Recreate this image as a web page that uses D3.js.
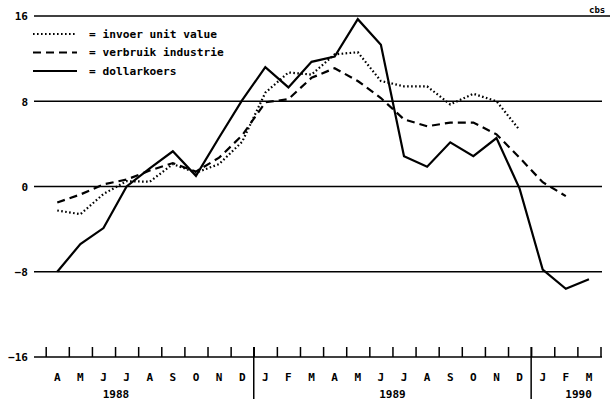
<!DOCTYPE html>
<html><head><meta charset="utf-8">
<script src="https://cdn.jsdelivr.net/npm/d3@7"></script>
<style>html,body{margin:0;padding:0;background:#fff;}svg{display:block;}</style>
</head><body>
<svg id="c" width="610" height="400"></svg>
<script>
const months = ["A","M","J","J","A","S","O","N","D","J","F","M","A","M","J","J","A","S","O","N","D","J","F","M"];
const years = ["1988","1989","1990"];
const yTicks = [-16,-8,0,8,16];
const dollarkoers = [-8,-5.4,-3.9,0,1.7,3.3,1.0,4.6,8.1,11.2,9.3,11.7,12.2,15.7,13.3,2.85,1.85,4.15,2.85,4.55,-0.2,-7.8,-9.6,-8.7];
const invoerUnitValue = [-2.25,-2.6,-0.7,0.5,0.45,2.1,1.3,2.1,4.2,8.8,10.7,10.5,12.4,12.6,9.9,9.4,9.4,7.7,8.7,8.0,5.3];
const verbruikIndustrie = [-1.5,-0.75,0.2,0.65,1.5,2.2,1.4,2.7,4.8,7.9,8.2,10.2,11.1,9.9,8.3,6.3,5.65,6.0,6.0,4.9,2.7,0.4,-0.9];
const legendLabels = ["invoer unit value","verbruik industrie","dollarkoers"];

const svg = d3.select("#c");
const font = "'DejaVu Sans Mono', monospace";
const x = d3.scaleLinear().domain([0,24]).range([45.7,600.5]);
const y = d3.scaleLinear().domain([-16,16]).range([357,16]);
const xm = i => x(i+0.5);

// grid lines
svg.append("g").selectAll("line").data(yTicks.filter(v=>v>-16)).join("line")
  .attr("x1",34).attr("x2",d=>d===16?610:602)
  .attr("y1",d=>y(d)).attr("y2",d=>y(d))
  .attr("stroke","#000").attr("stroke-width",1.6);

// x axis (baseline at -16) with upward ticks
const xAxis = d3.axisTop(x).tickValues(d3.range(0,25)).tickSize(10).tickFormat("");
const gx = svg.append("g").attr("transform",`translate(0,${y(-16)})`).call(xAxis);
gx.select(".domain").remove();
gx.selectAll(".tick line").attr("stroke","#000").attr("stroke-width",1.5);
svg.append("line").attr("x1",34).attr("x2",602).attr("y1",y(-16)).attr("y2",y(-16))
  .attr("stroke","#000").attr("stroke-width",1.6);
// year separators
svg.append("g").selectAll("line").data([9,21]).join("line")
  .attr("x1",d=>x(d)).attr("x2",d=>x(d)).attr("y1",y(-16)-10).attr("y2",399)
  .attr("stroke","#000").attr("stroke-width",1.5);

// y labels
const yAxis = d3.axisLeft(y).tickValues(yTicks).tickSize(0).tickPadding(0).tickFormat(d=>d<0?"\u2212"+Math.abs(d):d);
const gy = svg.append("g").attr("transform","translate(28,0)").call(yAxis);
gy.select(".domain").remove();
gy.selectAll("text").attr("font-family",font).attr("font-weight","bold").attr("font-size",11).attr("fill","#000").attr("dy","0.35em");

// month labels
svg.append("g").selectAll("text").data(months).join("text")
  .attr("x",(d,i)=>xm(i)).attr("y",381).attr("text-anchor","middle")
  .attr("font-family",font).attr("font-weight","bold").attr("font-size",11).text(d=>d);
// year labels
const yearPos = [3.04, 15, 23.05];
svg.append("g").selectAll("text").data(years).join("text")
  .attr("x",(d,i)=>x(yearPos[i])).attr("y",398).attr("text-anchor","middle")
  .attr("font-family",font).attr("font-weight","bold").attr("font-size",11).text(d=>d);

// series
const line = d3.line().x((d,i)=>xm(i)).y(d=>y(d));
const styles = [
  {data: invoerUnitValue, dash:"1.6,2.4"},
  {data: verbruikIndustrie, dash:"8,5"},
  {data: dollarkoers, dash:null}
];
styles.forEach(s=>{
  svg.append("path").datum(s.data).attr("d",line).attr("fill","none")
    .attr("stroke","#000").attr("stroke-width",2.2).attr("stroke-linejoin","miter")
    .attr("stroke-dasharray",s.dash);
});

// legend
const lg = svg.append("g");
legendLabels.forEach((t,i)=>{
  const yy = 34 + i*18.5;
  lg.append("line").attr("x1",33).attr("x2",77).attr("y1",yy).attr("y2",yy)
    .attr("stroke","#000").attr("stroke-width",2).attr("stroke-dasharray",styles[i].dash);
  lg.append("text").attr("x",89).attr("y",yy).attr("dy","0.35em")
    .attr("font-family",font).attr("font-weight","bold").attr("font-size",11.2).attr("xml:space","preserve")
    .text("= " + t);
});

// source tag
svg.append("text").attr("x",589).attr("y",13).attr("font-family",font).attr("font-weight","bold")
  .attr("font-size",9).text("cbs");
</script>
</body></html>
